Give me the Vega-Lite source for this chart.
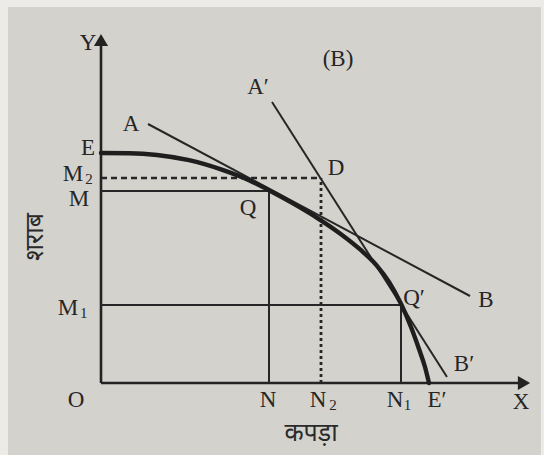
{
  "$schema": "https://vega.github.io/schema/vega-lite/v6.json",
  "width": 533,
  "height": 448,
  "padding": {"left": 8, "top": 7, "right": 3, "bottom": 0},
  "autosize": {"type": "none"},
  "background": "#ecebe8",
  "config": {
    "view": {"stroke": null, "fill": "#d4d2cd"},
    "axis": {"disable": true}
  },
  "datasets": {
    "curve": [
      {"cloth": 0, "wine": 5.75},
      {"cloth": 0.7, "wine": 5.745},
      {"cloth": 1.4, "wine": 5.7},
      {"cloth": 2.2, "wine": 5.57},
      {"cloth": 3.0, "wine": 5.34},
      {"cloth": 3.7, "wine": 5.07},
      {"cloth": 4.2, "wine": 4.82},
      {"cloth": 4.8, "wine": 4.49},
      {"cloth": 5.4, "wine": 4.13},
      {"cloth": 6.0, "wine": 3.72},
      {"cloth": 6.5, "wine": 3.32},
      {"cloth": 6.9, "wine": 2.93},
      {"cloth": 7.2, "wine": 2.53},
      {"cloth": 7.5, "wine": 1.98},
      {"cloth": 7.75, "wine": 1.4},
      {"cloth": 7.95, "wine": 0.85},
      {"cloth": 8.1, "wine": 0.4},
      {"cloth": 8.2, "wine": 0}
    ],
    "axes": [
      {"x": 0, "y": 0, "x2": 0, "y2": 8.5},
      {"x": 0, "y": 0, "x2": 10.5, "y2": 0}
    ],
    "heads": [
      {"x": 0, "y": 8.575, "shape": "triangle-up"},
      {"x": 10.575, "y": 0, "shape": "triangle-right"}
    ],
    "solid": [
      {"x": 0, "y": 4.8, "x2": 4.2, "y2": 4.8},
      {"x": 4.2, "y": 0, "x2": 4.2, "y2": 4.8},
      {"x": 0, "y": 1.95, "x2": 7.5, "y2": 1.95},
      {"x": 7.5, "y": 0, "x2": 7.5, "y2": 1.95},
      {"x": 1.175, "y": 6.475, "x2": 9.225, "y2": 2.175},
      {"x": 4.275, "y": 7.025, "x2": 8.65, "y2": 0.15}
    ],
    "dashH": [
      {"x": 0, "y": 5.125, "x2": 5.5, "y2": 5.125}
    ],
    "dotV": [
      {"x": 5.5, "y": 0, "x2": 5.5, "y2": 5.125}
    ],
    "labels": [
      {"x": -0.325, "y": 8.5, "t": "Y"},
      {"x": -0.325, "y": 5.875, "t": "E"},
      {"x": -0.7, "y": 5.22, "t": "M"},
      {"x": -0.55, "y": 4.6, "t": "M"},
      {"x": 0.75, "y": 6.475, "t": "A"},
      {"x": 3.925, "y": 7.4, "t": "A′"},
      {"x": 5.925, "y": 8.1, "t": "(B)"},
      {"x": 5.875, "y": 5.375, "t": "D"},
      {"x": 3.675, "y": 4.375, "t": "Q"},
      {"x": 7.825, "y": 2.125, "t": "Q′"},
      {"x": 9.625, "y": 2.075, "t": "B"},
      {"x": 9.075, "y": 0.475, "t": "B′"},
      {"x": -0.825, "y": 1.875, "t": "M"},
      {"x": -0.625, "y": -0.425, "t": "O"},
      {"x": 4.175, "y": -0.425, "t": "N"},
      {"x": 5.425, "y": -0.425, "t": "N"},
      {"x": 7.35, "y": -0.425, "t": "N"},
      {"x": 8.4, "y": -0.425, "t": "E′"},
      {"x": 10.5, "y": -0.475, "t": "X"}
    ],
    "subs": [
      {"x": -0.3, "y": 5.11, "t": "2"},
      {"x": -0.43, "y": 1.76, "t": "1"},
      {"x": 5.8, "y": -0.55, "t": "2"},
      {"x": 7.66, "y": -0.55, "t": "1"}
    ],
    "titles": [
      {"x": 5.25, "y": -1.25, "t": "कपड़ा", "a": 0},
      {"x": -1.65, "y": 3.65, "t": "शराब", "a": 270}
    ]
  },
  "encoding": {
    "x": {"type": "quantitative", "scale": {"domain": [-2.325, 11.0], "nice": false, "zero": false}},
    "y": {"type": "quantitative", "scale": {"domain": [-1.8, 9.4], "nice": false, "zero": false}}
  },
  "layer": [
    {
      "data": {"name": "axes"},
      "mark": {"type": "rule", "color": "#232323", "strokeWidth": 2.6},
      "encoding": {
        "x": {"field": "x", "type": "quantitative"},
        "y": {"field": "y", "type": "quantitative"},
        "x2": {"field": "x2"},
        "y2": {"field": "y2"}
      }
    },
    {
      "data": {"name": "heads"},
      "mark": {"type": "point", "filled": true, "color": "#232323", "size": 200, "opacity": 1},
      "encoding": {
        "x": {"field": "x", "type": "quantitative"},
        "y": {"field": "y", "type": "quantitative"},
        "shape": {"field": "shape", "type": "nominal", "scale": null}
      }
    },
    {
      "data": {"name": "solid"},
      "mark": {"type": "rule", "color": "#262626", "strokeWidth": 2},
      "encoding": {
        "x": {"field": "x", "type": "quantitative"},
        "y": {"field": "y", "type": "quantitative"},
        "x2": {"field": "x2"},
        "y2": {"field": "y2"}
      }
    },
    {
      "data": {"name": "dashH"},
      "mark": {"type": "rule", "color": "#262626", "strokeWidth": 2.6, "strokeDash": [6, 4]},
      "encoding": {
        "x": {"field": "x", "type": "quantitative"},
        "y": {"field": "y", "type": "quantitative"},
        "x2": {"field": "x2"},
        "y2": {"field": "y2"}
      }
    },
    {
      "data": {"name": "dotV"},
      "mark": {"type": "rule", "color": "#262626", "strokeWidth": 2.8, "strokeDash": [3, 3]},
      "encoding": {
        "x": {"field": "x", "type": "quantitative"},
        "y": {"field": "y", "type": "quantitative"},
        "x2": {"field": "x2"},
        "y2": {"field": "y2"}
      }
    },
    {
      "data": {"name": "curve"},
      "mark": {"type": "line", "color": "#1e1e1e", "strokeWidth": 4.4, "interpolate": "monotone", "strokeCap": "round"},
      "encoding": {
        "x": {"field": "cloth", "type": "quantitative"},
        "y": {"field": "wine", "type": "quantitative"},
        "order": {"field": "cloth", "type": "quantitative"}
      }
    },
    {
      "data": {"name": "labels"},
      "mark": {"type": "text", "font": "Liberation Serif", "fontSize": 23, "color": "#262626", "align": "center", "baseline": "middle"},
      "encoding": {
        "x": {"field": "x", "type": "quantitative"},
        "y": {"field": "y", "type": "quantitative"},
        "text": {"field": "t"}
      }
    },
    {
      "data": {"name": "subs"},
      "mark": {"type": "text", "font": "Liberation Serif", "fontSize": 15, "color": "#262626", "align": "center", "baseline": "middle"},
      "encoding": {
        "x": {"field": "x", "type": "quantitative"},
        "y": {"field": "y", "type": "quantitative"},
        "text": {"field": "t"}
      }
    },
    {
      "data": {"name": "titles"},
      "mark": {"type": "text", "font": "Noto Sans Devanagari, Noto Sans, sans-serif", "fontSize": 25, "color": "#2a2a2a", "align": "center", "baseline": "middle"},
      "encoding": {
        "x": {"field": "x", "type": "quantitative"},
        "y": {"field": "y", "type": "quantitative"},
        "text": {"field": "t"},
        "angle": {"field": "a", "type": "quantitative", "scale": null}
      }
    }
  ]
}
